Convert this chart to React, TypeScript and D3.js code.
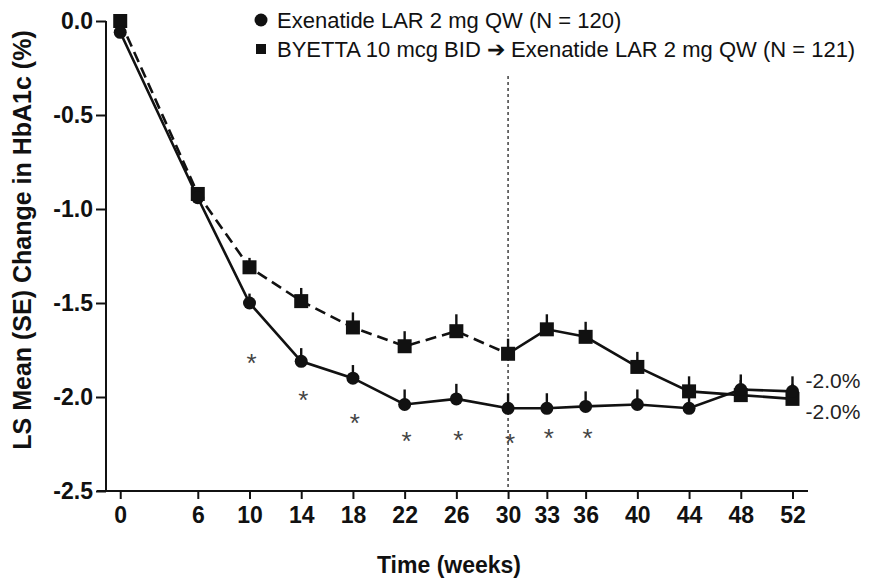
import React, { useEffect, useRef } from 'react';
import * as d3 from 'd3';

// weeks of measurement
const weeks = [0, 6, 10, 14, 18, 22, 26, 30, 33, 36, 40, 44, 48, 52];

// Exenatide LAR 2 mg QW (N = 120)
const larMean = [-0.06, -0.94, -1.5, -1.81, -1.9, -2.04, -2.01, -2.06, -2.06, -2.05, -2.04, -2.06, -1.96, -1.97];
const larSE = [0, 0.03, 0.05, 0.07, 0.07, 0.08, 0.08, 0.08, 0.08, 0.08, 0.08, 0.08, 0.08, 0.08];

// BYETTA 10 mcg BID -> Exenatide LAR 2 mg QW (N = 121)
const byettaMean = [0.0, -0.92, -1.31, -1.49, -1.63, -1.73, -1.65, -1.77, -1.64, -1.68, -1.84, -1.97, -1.99, -2.01];
const byettaSE = [0, 0.03, 0.05, 0.07, 0.08, 0.08, 0.09, 0.08, 0.08, 0.08, 0.08, 0.08, 0.08, 0.08];

// significance markers
const starWeeks = [10, 14, 18, 22, 26, 30, 33, 36];
const starLevel = [-1.79, -1.99, -2.11, -2.21, -2.2, -2.22, -2.19, -2.19];

const yTicks = [0, -0.5, -1.0, -1.5, -2.0, -2.5];
const switchWeek = 30;
const endLabels = ['-2.0%', '-2.0%'];

const legendLabels = [
  'Exenatide LAR 2 mg QW (N = 120)',
  'BYETTA 10 mcg BID \u2794 Exenatide LAR 2 mg QW (N = 121)',
];

const FONT = '"Liberation Sans", Arial, sans-serif';

export default function App() {
  const ref = useRef<SVGSVGElement>(null);

  useEffect(() => {
    const svg = d3.select(ref.current);
    svg.selectAll('*').remove();

    const x = d3.scaleLinear().domain([-1.1, 53.2]).range([106, 808]);
    const y = d3.scaleLinear().domain([-2.5, 0]).range([491, 21]);

    const g = svg.append('g').style('font-family', FONT);

    // axes
    const yAxis = d3.axisLeft(y).tickValues(yTicks).tickSize(10).tickPadding(3)
      .tickFormat(d => d3.format('.1f')(d as number).replace('\u2212', '-'));
    const ya = g.append('g').attr('transform', 'translate(106,0)').call(yAxis);
    ya.select('.domain').attr('stroke', '#111').attr('stroke-width', 2).attr('d', 'M0,21V491');
    ya.selectAll('.tick line').attr('stroke', '#111').attr('stroke-width', 2);
    ya.selectAll('.tick text').attr('font-size', 23).attr('font-weight', 'bold')
      .attr('fill', '#111').attr('font-family', FONT);

    const xAxis = d3.axisBottom(x).tickValues(weeks).tickSize(8).tickPadding(8);
    const xa = g.append('g').attr('transform', 'translate(0,491)').call(xAxis);
    xa.select('.domain').attr('stroke', '#111').attr('stroke-width', 2).attr('d', 'M97,0H808');
    xa.selectAll('.tick line').attr('stroke', '#111').attr('stroke-width', 2);
    xa.selectAll('.tick text').attr('font-size', 23).attr('font-weight', 'bold')
      .attr('fill', '#111').attr('font-family', FONT);

    // axis titles
    g.append('text')
      .attr('transform', 'translate(31,240) rotate(-90)')
      .attr('text-anchor', 'middle')
      .attr('font-size', 25).attr('font-weight', 'bold').attr('fill', '#111')
      .text('LS Mean (SE) Change in HbA1c (%)');

    g.append('text')
      .attr('x', 449).attr('y', 573)
      .attr('text-anchor', 'middle')
      .attr('font-size', 23).attr('font-weight', 'bold').attr('fill', '#111')
      .text('Time (weeks)');

    // dotted switch line
    g.append('line')
      .attr('x1', x(switchWeek)).attr('x2', x(switchWeek))
      .attr('y1', 76).attr('y2', y(-2.5))
      .attr('stroke', '#222').attr('stroke-width', 1.3).attr('stroke-dasharray', '3,3');

    const lar = weeks.map((w, i) => ({ w, m: larMean[i], se: larSE[i] }));
    const bye = weeks.map((w, i) => ({ w, m: byettaMean[i], se: byettaSE[i] }));

    const line = d3.line<{ w: number; m: number }>().x(d => x(d.w)).y(d => y(d.m));

    g.append('path').datum(lar).attr('d', line)
      .attr('fill', 'none').attr('stroke', '#111').attr('stroke-width', 2.6);

    g.append('path').datum(bye.filter(d => d.w <= switchWeek)).attr('d', line)
      .attr('fill', 'none').attr('stroke', '#111').attr('stroke-width', 2.6)
      .attr('stroke-dasharray', '11,6');
    g.append('path').datum(bye.filter(d => d.w >= switchWeek)).attr('d', line)
      .attr('fill', 'none').attr('stroke', '#111').attr('stroke-width', 2.6);

    // error bars (upper half)
    [...lar, ...bye].forEach(d => {
      g.append('line')
        .attr('x1', x(d.w)).attr('x2', x(d.w))
        .attr('y1', y(d.m)).attr('y2', y(d.m + d.se))
        .attr('stroke', '#111').attr('stroke-width', 2.4);
    });

    // markers
    g.selectAll('.sq').data(bye).enter().append('rect')
      .attr('x', d => x(d.w) - 7).attr('y', d => y(d.m) - 7)
      .attr('width', 14).attr('height', 14).attr('fill', '#111');
    g.selectAll('.dot').data(lar).enter().append('circle')
      .attr('cx', d => x(d.w)).attr('cy', d => y(d.m)).attr('r', 6.5).attr('fill', '#111');

    // asterisks
    g.selectAll('.star').data(starWeeks).enter().append('text')
      .attr('x', d => x(d) + 2).attr('y', (d, i) => y(starLevel[i]) + 14)
      .attr('text-anchor', 'middle').attr('font-size', 26).attr('fill', '#444')
      .text('*');

    // end labels
    const last = weeks.length - 1;
    g.append('text').attr('x', x(52) + 13).attr('y', y(larMean[last]) - 3)
      .attr('font-size', 21).attr('fill', '#222').text(endLabels[0]);
    g.append('text').attr('x', x(52) + 13).attr('y', y(byettaMean[last]) + 20)
      .attr('font-size', 21).attr('fill', '#222').text(endLabels[1]);

    // legend
    const lg = g.append('g');
    lg.append('circle').attr('cx', 261).attr('cy', 20).attr('r', 6.5).attr('fill', '#111');
    lg.append('rect').attr('x', 256).attr('y', 44).attr('width', 10).attr('height', 10).attr('fill', '#111');
    legendLabels.forEach((t, i) => {
      lg.append('text').attr('x', 277).attr('y', 28 + i * 29)
        .attr('font-size', 22).attr('fill', '#111').text(t);
    });
  }, []);

  return (
    <svg ref={ref} width={877} height={583}
      style={{ position: 'absolute', left: 0, top: 0, background: '#fff' }} />
  );
}
